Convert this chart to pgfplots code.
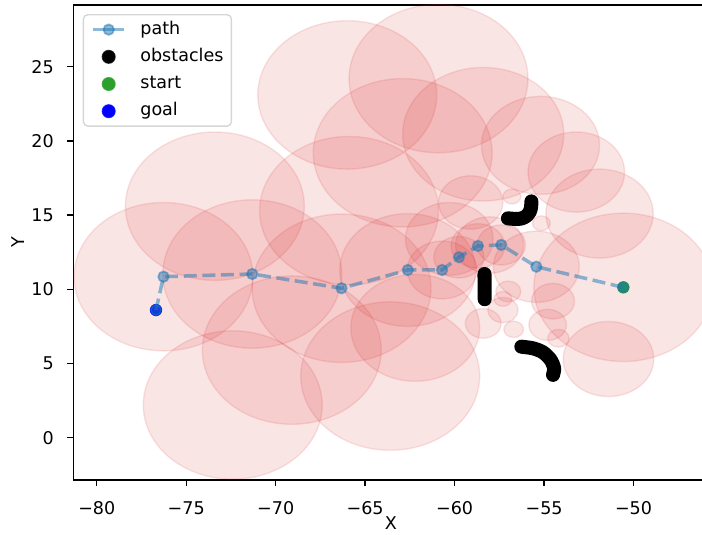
\documentclass[border=0pt]{standalone}
\usepackage{fontspec}
\setmainfont{DejaVu Sans}
\usepackage{pgfplots}
\usepackage{pgfplotstable}
\pgfplotsset{compat=1.18}
\definecolor{tabred}{HTML}{D62728}
\definecolor{tabblue}{HTML}{1F77B4}
\definecolor{tabgreen}{HTML}{2CA02C}
\definecolor{legedge}{HTML}{CCCCCC}
\def\xu{10.2pt}
\def\yu{8.458pt}
\pgfdeclareplotmark{bubble}{%
  \pgfpathellipse{\pgfpointorigin}{\pgfpoint{\rad*\xu}{0pt}}{\pgfpoint{0pt}{\rad*\yu}}%
  \pgfusepathqfillstroke}
\pgfplotstableread{
x y r
-76.27 10.85 5
-73.40 15.60 5
-71.31 11.03 5
-66.32 10.07 5
-69.10 5.90 5
-72.40 2.20 5
-63.60 4.15 5
-66.00 23.10 5
-60.90 24.20 5
-62.90 19.20 5
-58.40 20.45 4.5
-55.20 19.70 3.3
-53.20 17.90 2.7
-51.90 15.10 3.0
-50.57 10.13 5
-65.90 15.30 5
-62.62 11.30 3.8
-62.20 7.40 3.6
-60.70 11.30 1.95
-59.76 12.16 1.4
-58.70 12.92 1.5
-57.39 12.99 1.35
-55.43 11.52 2.4
-60.30 13.40 2.45
-59.10 15.85 1.8
-56.80 16.25 0.5
-55.15 14.45 0.5
-58.05 12.98 1.9
-58.40 7.70 1.0
-57.30 8.60 0.85
-57.00 9.85 0.7
-57.30 9.35 0.5
-56.70 7.30 0.55
-54.80 7.60 1.05
-54.20 6.70 0.6
-54.50 9.20 1.2
-51.40 5.30 2.53
}\circles
\begin{document}
\begin{tikzpicture}
\begin{axis}[
  name=ax, scale only axis, width=362.1pt, height=270.75pt,
  xmin=-81.31, xmax=-45.81, ymin=-2.85, ymax=29.16,
  axis line style={line width=0.8pt, black},
  every tick/.style={black, line width=0.8pt},
  tick align=outside, major tick length=3.4pt,
  xtick pos=left, ytick pos=left,
  xtick={-80,-75,-70,-65,-60,-55,-50},
  xticklabels={−80,−75,−70,−65,−60,−55,−50},
  ytick={0,5,10,15,20,25}, yticklabels={0,5,10,15,20,25},
  xticklabel style={inner sep=0pt, anchor=north, yshift=-8.9pt},
  yticklabel style={inner sep=0pt, anchor=east, xshift=-7.6pt},
  xlabel={X}, ylabel={Y},
  xlabel style={at={(axis description cs:0.5,-0.0905)}, anchor=center, inner sep=0pt},
  ylabel style={at={(axis description cs:-0.0870,0.5)}, anchor=center, inner sep=0pt},
  clip marker paths=true,
  legend cell align=left,
  legend style={at={(axis description cs:0.0148,0.981)}, anchor=north west,
    draw=legedge, line width=0.8pt, rounded corners=2.5pt, fill=white,
    fill opacity=0.8, draw opacity=0.8, text opacity=1,
    inner xsep=4.56pt, inner ysep=3.6pt, row sep=5.7pt,
    nodes={inner sep=0pt, text height=7.6pt, text depth=2.2pt}},
]
\addlegendimage{legend image code/.code={
  \draw[tabblue, draw opacity=0.5, line width=2pt] (0pt,0pt) -- (17.7pt,0pt);
  \filldraw[tabblue, fill opacity=0.5, draw opacity=0.5, line width=1pt] (8.85pt,0pt) circle (3pt);
  \path (26.5pt,0pt);}}
\addlegendentry{path}
\addlegendimage{legend image code/.code={
  \fill[black, fill opacity=1] (8.85pt,0pt) circle (3.6pt);
  \path (0pt,0pt) (26.5pt,0pt);}}
\addlegendentry{obstacles}
\addlegendimage{legend image code/.code={
  \fill[tabgreen, fill opacity=1] (8.85pt,0pt) circle (3.6pt);
  \path (0pt,0pt) (26.5pt,0pt);}}
\addlegendentry{start}
\addlegendimage{legend image code/.code={
  \fill[blue, fill opacity=1] (8.85pt,0pt) circle (3.6pt);
  \path (0pt,0pt) (26.5pt,0pt);}}
\addlegendentry{goal}

\addplot[forget plot, only marks, mark=bubble, color=tabred,
  mark options={fill=tabred, draw=tabred, fill opacity=0.12, draw opacity=0.12, line width=0.8pt},
  visualization depends on={\thisrow{r}\as\rad}] table[x=x, y=y] {\circles};

\addplot[forget plot, black, line width=8pt, line cap=round, line join=round, smooth, tension=0.5]
  coordinates {(-57.02,14.78) (-56.60,14.74) (-56.27,14.77) (-56.00,14.93) (-55.82,15.18) (-55.73,15.50) (-55.71,15.92)};
\addplot[forget plot, black, line width=8pt, line cap=round]
  coordinates {(-58.32,9.33) (-58.33,11.03)};
\addplot[forget plot, black, line width=8pt, line cap=round, line join=round, smooth, tension=0.5]
  coordinates {(-56.27,6.13) (-55.62,6.02) (-55.06,5.75) (-54.63,5.24) (-54.44,4.68) (-54.50,4.23)};

\addplot[forget plot, only marks, mark=*, mark size=3.5pt, color=tabgreen, mark options={draw opacity=0}]
  coordinates {(-50.57,10.13)};
\addplot[forget plot, only marks, mark=*, mark size=3.5pt, color=blue, mark options={draw opacity=0}]
  coordinates {(-76.69,8.60)};

\addplot[forget plot, tabblue, draw opacity=0.5, line width=2pt, dash pattern=on 7.4pt off 3.2pt,
  mark=*, mark size=3pt, mark options={solid, fill=tabblue, draw=tabblue, fill opacity=0.5, draw opacity=0.5, line width=1pt}]
  coordinates {(-50.57,10.13) (-55.43,11.52) (-57.39,12.99) (-58.70,12.92) (-59.76,12.16) (-60.70,11.30)
    (-62.62,11.30) (-66.32,10.07) (-71.31,11.03) (-76.27,10.85) (-76.69,8.60)};
\end{axis}
\pgfresetboundingbox
\path[use as bounding box] ([shift={(-41.8pt,-31.35pt)}]ax.south west) rectangle ([shift={(358.4pt,2.85pt)}]ax.north west);
\end{tikzpicture}
\end{document}
